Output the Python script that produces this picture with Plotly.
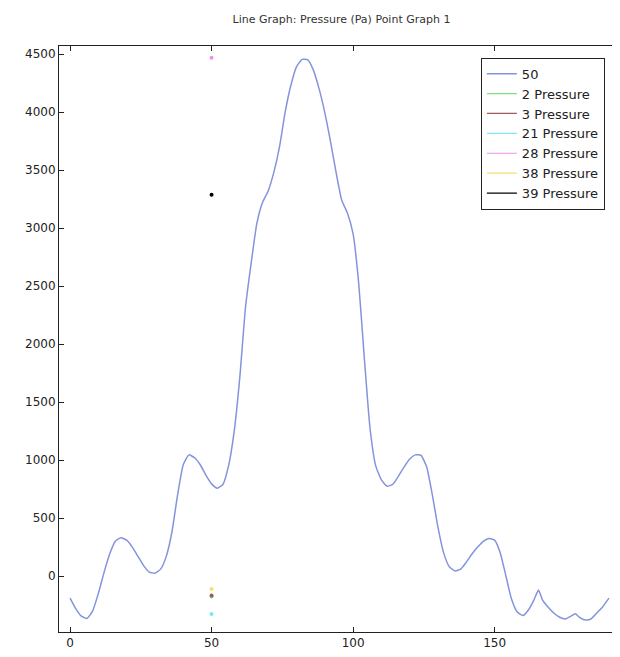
import plotly.graph_objects as go

# Main curve "50"
curve_x = [0, 2, 4, 6, 8, 10, 12, 14, 16, 18, 20, 22, 24, 26, 28, 30, 32, 34, 36, 38,
           40, 42, 44, 46, 48, 50, 52, 54, 56, 58, 60, 62, 64, 66, 68, 70, 72, 74, 76, 78,
           80, 82, 84, 86, 88, 90, 92, 94, 96, 98, 100, 102, 104, 106, 108, 110, 112, 114,
           116, 118, 120, 122, 124, 126, 128, 130, 132, 134, 136, 138, 140, 142, 144, 146,
           148, 150, 152, 154, 156, 158, 160, 162, 164, 165.5, 167, 169, 171, 173, 175,
           177, 178.5, 180, 182, 184, 186, 188, 190.4]
curve_y = [-190, -280, -345, -365, -300, -150, 30, 190, 300, 330, 310, 250, 170, 90, 35,
           25, 60, 170, 380, 700, 960, 1045, 1020, 960, 870, 795, 758, 790, 950, 1250,
           1720, 2320, 2700, 3040, 3220, 3320, 3480, 3700, 4000, 4230, 4390, 4455, 4450,
           4360, 4200, 3996, 3750, 3480, 3240, 3130, 2950, 2520, 1870, 1270, 950, 830,
           775, 790, 860, 940, 1010, 1045, 1040, 940, 700, 420, 200, 80, 45, 60, 120, 190,
           250, 300, 325, 310, 200, 0, -200, -310, -340, -290, -200, -120, -210, -270,
           -320, -355, -370, -345, -325, -355, -378, -370, -320, -270, -190]

# Point series (all at x = 50)
point_names = ["2 Pressure", "3 Pressure", "21 Pressure", "28 Pressure", "38 Pressure", "39 Pressure"]
point_x = [50, 50, 50, 50, 50, 50]
point_y = [-175, -168, -327, 4469, -112, 3287]
point_colors = ["#7fe07f", "#a05a5a", "#7fe6f8", "#f090ec", "#f5e070", "#000000"]

x_ticks = [0, 50, 100, 150]
y_ticks = [0, 500, 1000, 1500, 2000, 2500, 3000, 3500, 4000, 4500]

fig = go.Figure()
fig.add_trace(go.Scatter(x=curve_x, y=curve_y, mode="lines", name="50",
                         line=dict(color="#8494dc", width=1.5, shape="spline", smoothing=0.5)))
for n, xv, yv, c in zip(point_names, point_x, point_y, point_colors):
    fig.add_trace(go.Scatter(x=[xv], y=[yv], mode="markers", showlegend=False,
                             marker=dict(color=c, size=4)))
    fig.add_trace(go.Scatter(x=[None], y=[None], mode="lines", name=n,
                             line=dict(color=c, width=1.2)))

axis_common = dict(showgrid=False, zeroline=False, showline=True, linecolor="#222",
                   linewidth=1, mirror="ticks", ticks="inside", ticklen=5,
                   tickcolor="#222", automargin=False,
                   tickfont=dict(family="DejaVu Sans", size=12, color="#222"))
fig.update_xaxes(range=[-3.9, 194.3], tickvals=x_ticks, **axis_common)
fig.update_yaxes(range=[-482, 4570], tickvals=y_ticks, **axis_common)

fig.update_layout(
    width=612, height=649,
    margin=dict(l=51, r=0, t=38, b=25),
    paper_bgcolor="white", plot_bgcolor="white",
    title=dict(text="Line Graph: Pressure (Pa) Point Graph 1", x=0.545, xanchor="center",
               y=0.983, yanchor="middle",
               font=dict(family="DejaVu Sans", size=11, color="#333")),
    legend=dict(x=0.752, y=0.98, xanchor="left", yanchor="top",
                bgcolor="white", bordercolor="#222", borderwidth=1,
                font=dict(family="DejaVu Sans", size=13, color="#222"),
                tracegroupgap=0, itemwidth=30),
)
fig.write_html("out.html")
